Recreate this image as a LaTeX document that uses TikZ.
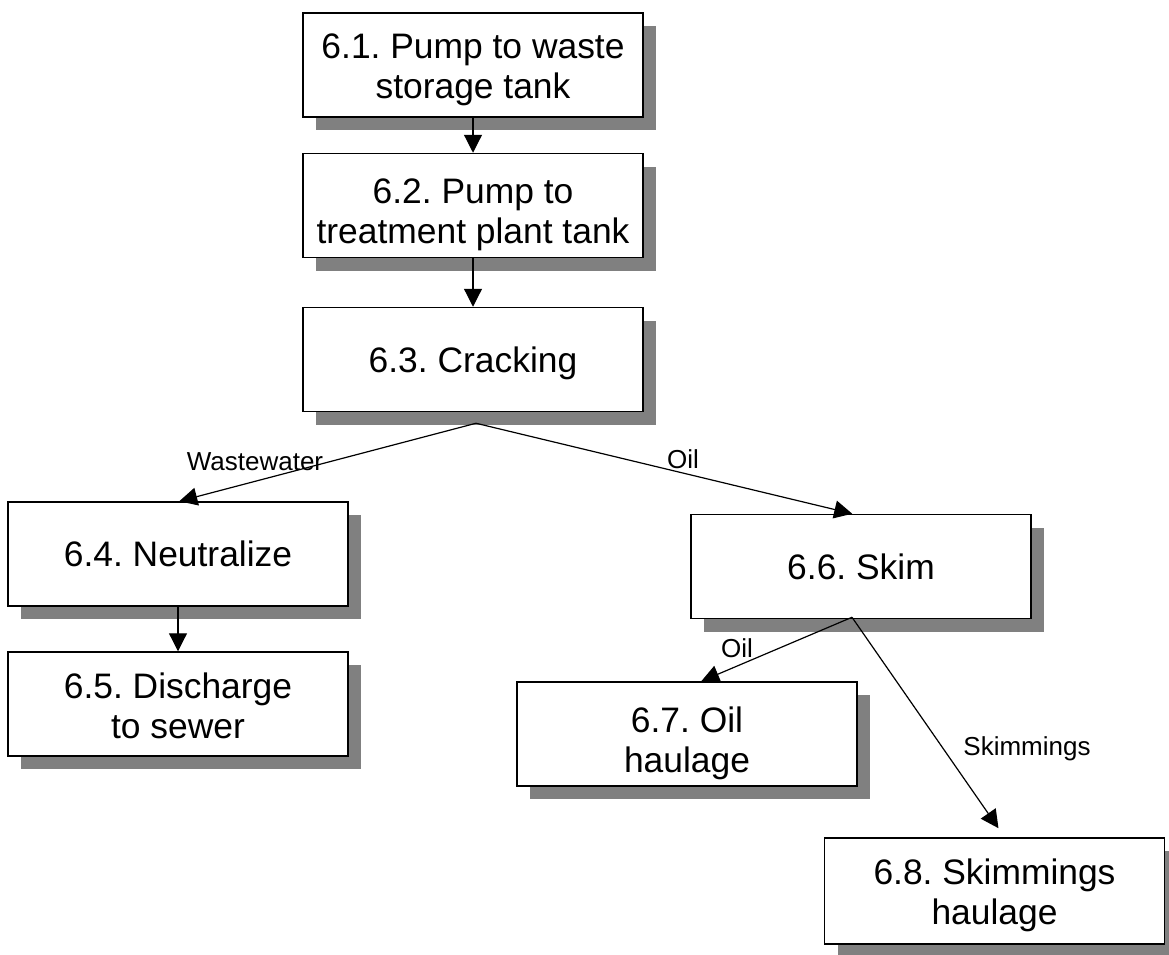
\documentclass[tikz,border=0pt]{standalone}
\usepackage{fontspec}
\setmainfont{Liberation Sans}
\usetikzlibrary{arrows.meta,shadows,calc}
\definecolor{shadowgray}{RGB}{128,128,128}
% invisible strut that lowers the text block of a box by half its extra height
\newcommand\padtop[1]{\rule{0pt}{#1}}
\frenchspacing
\begin{document}
\begin{tikzpicture}[x=1pt,y=-1pt,
  stepbox/.style={draw=black, line width=1.5pt, fill=white,
    minimum width=340pt, minimum height=104pt, inner sep=0pt, align=center,
    font=\fontsize{35.4}{40}\selectfont,
    drop shadow={shadow xshift=13pt, shadow yshift=-13pt, fill=shadowgray, opacity=1}},
  flow/.style={draw=black, line width=1.2pt, -{Triangle[length=18pt,width=18pt]}},
  lbl/.style={font=\fontsize{26}{30}\selectfont, inner sep=0pt, anchor=base}]
  \useasboundingbox[fill=white] (0,0) rectangle (1169,954);

  % process steps
  \node[stepbox] (n1) at (473,65)    {\padtop{35pt}6.1. Pump to waste\\storage tank};
  \node[stepbox] (n2) at (473,205.5) {\padtop{43pt}6.2. Pump to\\treatment plant tank};
  \node[stepbox] (n3) at (473,359.5) {\padtop{33pt}6.3. Cracking};
  \node[stepbox] (n4) at (178,554)   {6.4. Neutralize};
  \node[stepbox] (n5) at (178,704)   {\padtop{29pt}6.5. Discharge\\to sewer};
  \node[stepbox] (n6) at (861,566.5) {6.6. Skim};
  \node[stepbox] (n7) at (687,734)   {\padtop{45pt}6.7. Oil\\haulage};
  \node[stepbox, minimum height=106pt] (n8) at (994.5,891) {\padtop{35pt}6.8. Skimmings\\haulage};

  % branch points under the splitting steps
  \coordinate (s3) at ([shift={(3,11)}]n3.south);
  \coordinate (s6) at ([shift={(-9,-2)}]n6.south);

  % straight flow
  \draw[flow] (n1.south) -- (n2.north);
  \draw[flow] (n2.south) -- (n3.north);
  \draw[flow] (n4.south) -- (n5.north);

  % split after cracking
  \draw[flow] (s3) -- ([xshift=172pt]n4.north west);
  \draw[flow] (s3) -- ([xshift=162pt]n6.north west);

  % split after skimming
  \draw[flow] (s6) -- ([xshift=185pt]n7.north west);
  \draw[flow, shorten >=11pt] (s6) -- ([xshift=181pt]n8.north west);

  % stream labels
  \node[lbl] (lw) at (255,470)  {Wastewater};
  \node[lbl] (lo1) at (683,468) {Oil};
  \node[lbl] (lo2) at (737,657) {Oil};
  \node[lbl] (ls) at (1027,755) {Skimmings};
\end{tikzpicture}
\end{document}
